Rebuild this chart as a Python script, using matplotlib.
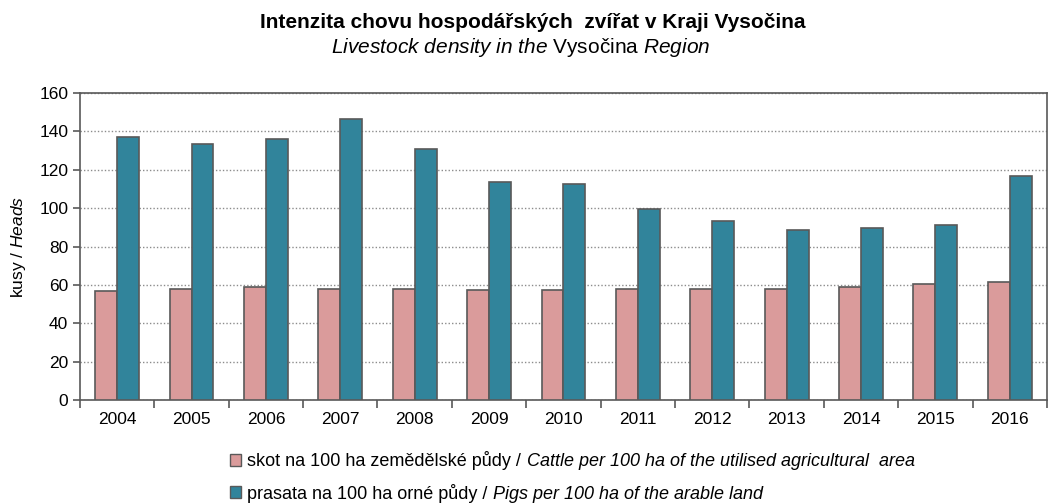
import matplotlib
matplotlib.use("Agg")
import matplotlib.pyplot as plt
import numpy as np
from matplotlib.patches import Patch

plt.rcParams['font.family'] = ['Liberation Sans', 'DejaVu Sans']
plt.rcParams['mathtext.fontset'] = 'custom'
plt.rcParams['mathtext.rm'] = 'Liberation Sans'
plt.rcParams['mathtext.it'] = 'Liberation Sans:italic'

years = ['2004', '2005', '2006', '2007', '2008', '2009', '2010',
         '2011', '2012', '2013', '2014', '2015', '2016']
cattle = [57.0, 57.8, 58.7, 57.8, 58.0, 57.3, 57.3, 57.8, 57.8, 57.8, 58.7, 60.6, 61.5]
pigs = [137.0, 133.7, 136.2, 146.6, 131.0, 113.5, 112.5, 99.5, 93.1, 88.6, 89.6, 91.4, 116.7]

# legend labels: regular Czech part + italic English part
labels_cz = ['skot na 100 ha zemědělské půdy /', 'prasata na 100 ha orné půdy /']
labels_en = ['Cattle per 100 ha of the utilised agricultural  area',
             'Pigs per 100 ha of the arable land']

c_cattle = '#DA9B9B'
c_pigs = '#31849B'
edge = '#595959'

fig = plt.figure(figsize=(10.48, 5.03), dpi=100)
ax = fig.add_axes([0.0763, 0.2048, 0.9227, 0.6102])

x = np.arange(len(years))
w = 0.295
ax.bar(x - w / 2, cattle, w, color=c_cattle, edgecolor=edge, linewidth=1.2, zorder=3)
ax.bar(x + w / 2, pigs, w, color=c_pigs, edgecolor=edge, linewidth=1.2, zorder=3)

ax.set_xlim(-0.5, len(years) - 0.5)
ax.set_ylim(0, 160)
ax.set_yticks(range(0, 161, 20))
ax.set_xticks(x)
ax.set_xticklabels(years)
ax.set_xticks(np.arange(-0.5, len(years), 1), minor=True)
ax.tick_params(axis='x', which='major', length=0, labelsize=12.5, pad=9)
ax.tick_params(axis='x', which='minor', length=6, direction='out', color=edge, width=1.2)
ax.tick_params(axis='y', length=5, direction='out', color=edge, width=1.2, labelsize=12.5)
for s in ax.spines.values():
    s.set_color(edge)
    s.set_linewidth(1.2)
ax.yaxis.grid(True, linestyle=(0, (1, 1.5)), color='#8c8c8c', linewidth=1, zorder=0)
ax.set_ylabel(r'kusy / $\mathit{Heads}$', fontsize=12.5, labelpad=8)

fig.text(0.508, 0.955, 'Intenzita chovu hospodářských  zvířat v Kraji Vysočina',
         ha='center', va='center', fontsize=15, fontweight='bold')
fig.text(0.497, 0.905, r'$\mathit{Livestock\ density\ in\ the}$ Vysočina $\mathit{Region}$',
         ha='center', va='center', fontsize=15)

handles = [Patch(facecolor=c_cattle, edgecolor=edge),
           Patch(facecolor=c_pigs, edgecolor=edge)]
leg = fig.legend(handles=handles, labels=labels_cz, loc='upper left',
                 bbox_to_anchor=(0.219, 0.103), frameon=False, fontsize=13,
                 handlelength=0.65, handleheight=0.65, handletextpad=0.3,
                 labelspacing=0.75, borderaxespad=0, borderpad=0)

# put the italic English part right after each legend label
fig.canvas.draw()
W, H = fig.bbox.width, fig.bbox.height
for t, en in zip(leg.get_texts(), labels_en):
    bb = t.get_window_extent()
    fig.text((bb.x1 + 6) / W, bb.y0 / H, en, ha='left', va='bottom',
             fontsize=13, style='italic')

fig.savefig('out.png', dpi=100)
